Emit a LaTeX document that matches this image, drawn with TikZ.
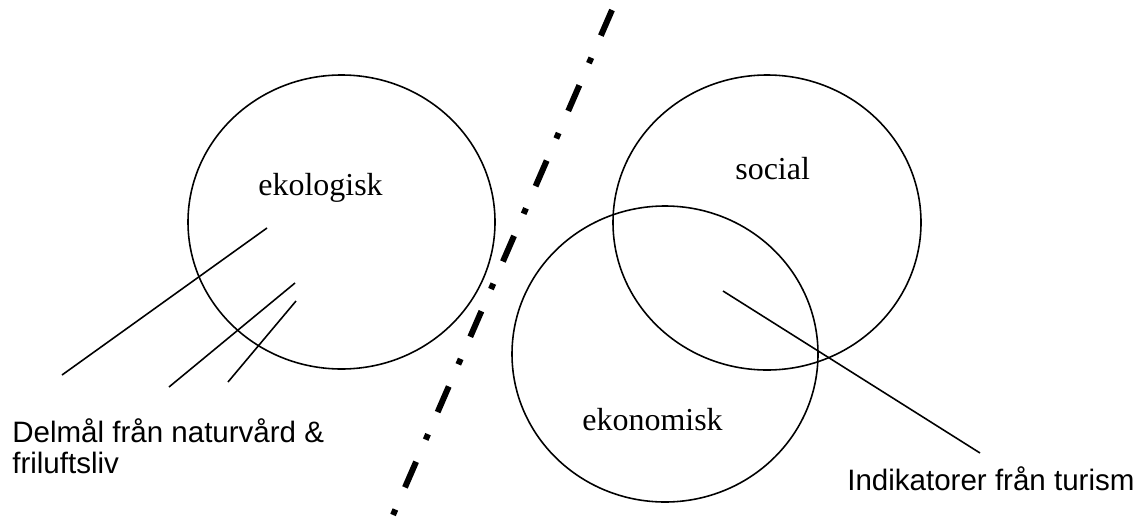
\documentclass[tikz,border=0pt]{standalone}
\usepackage{fontspec}
\setmainfont{Liberation Serif}
\setsansfont{Liberation Sans}
\usetikzlibrary{positioning,shapes.geometric}

\begin{document}
\begin{tikzpicture}[
	ring/.style={ellipse,draw,line width=0.9pt,inner sep=0pt},
	word/.style={inner sep=0pt,anchor=base west,font=\fontsize{18.2}{21}\selectfont},
	note/.style={inner sep=0pt,anchor=base west,font=\sffamily\fontsize{16.8}{19}\selectfont},
	lead/.style={line width=0.9pt},
	divider/.style={line width=3.4pt,dash pattern=on 15.9pt off 13.7pt on 3.4pt off 13.7pt}]
\useasboundingbox (0,0) rectangle (22.86,10.38);

\node[ring,minimum width=6.14cm,minimum height=5.88cm] (Ekol) at (6.83,5.94) {};
\node[ring,minimum width=6.16cm,minimum height=5.90cm] (Soc) at (15.34,5.93) {};
\node[ring,minimum width=6.12cm,minimum height=5.92cm] (Ekon) at (13.30,3.30) {};

\node[word] (EkolText) at (5.16,6.48) {ekologisk};
\node[word] (SocText) at (14.70,6.80) {social};
\node[word] (EkonText) at (11.64,1.78) {ekonomisk};

\node[note] (Delmal) at (0.24,1.54) {Delmål från naturvård \&};
\node[note] (Frilufts) at (0.24,0.92) {friluftsliv};
\node[note] (Indik) at (16.94,0.58) {Indikatorer från turism};

\coordinate (L1In) at (5.34,5.82);
\coordinate (L1Out) at (1.24,2.88);
\coordinate (L2In) at (5.90,4.72);
\coordinate (L2Out) at (3.38,2.64);
\coordinate (L3In) at (5.92,4.36);
\coordinate (L3Out) at (4.56,2.74);
\coordinate (TurIn) at (14.46,4.56);
\coordinate (TurOut) at (19.60,1.32);

\draw[lead] (L1In) -- (L1Out);
\draw[lead] (L2In) -- (L2Out);
\draw[lead] (L3In) -- (L3Out);
\draw[lead] (TurIn) -- (TurOut);

\coordinate (DivTop) at (12.24,10.18);
\coordinate (DivBot) at (7.86,0.08);
\draw[divider] (DivTop) -- (DivBot);
\end{tikzpicture}
\end{document}
